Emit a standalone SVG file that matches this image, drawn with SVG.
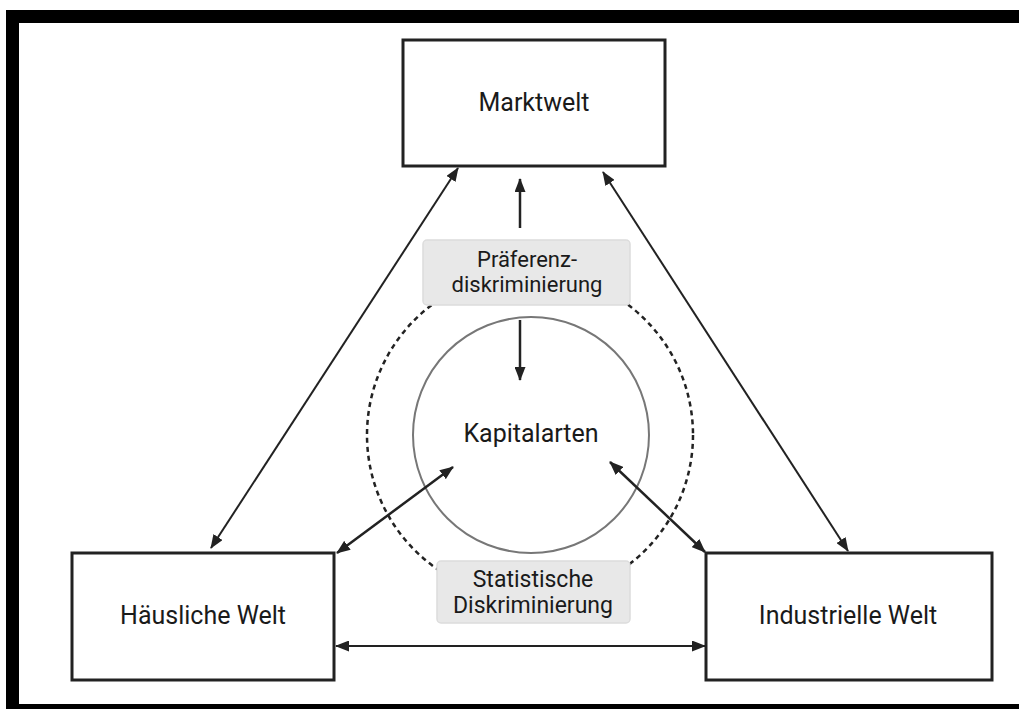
<svg xmlns="http://www.w3.org/2000/svg" width="1019" height="709" viewBox="0 0 1019 709">
  <style>
    .box { fill: #ffffff; stroke: #222222; stroke-width: 3; }
    .lbl { fill: #e8e8e8; stroke: #dcdcdc; stroke-width: 1.5; }
    .t { font-family: Roboto, "Liberation Sans", sans-serif; fill: #1a1a1a; text-anchor: middle; }
    .conn { stroke: #222222; stroke-width: 2; fill: none; }
    .inner { stroke-width: 2.5; }
  </style>
  <defs>
    <marker id="ah" viewBox="0 0 14 11" markerUnits="userSpaceOnUse" markerWidth="14" markerHeight="11" refX="13" refY="5.5" orient="auto-start-reverse">
      <path d="M0,0 L14,5.5 L0,11 z" fill="#222222"/>
    </marker>
  </defs>
  <rect width="1019" height="709" fill="#ffffff"/>
  <g id="frame" fill="#000000">
    <rect x="6" y="10" width="1013" height="13"/>
    <rect x="6" y="10" width="13" height="699"/>
    <rect x="6" y="704" width="1013" height="5"/>
  </g>
  <g id="ring">
    <circle cx="530" cy="435" r="163" fill="none" stroke="#222222" stroke-width="2.5" stroke-dasharray="5 4"/>
  </g>
  <g id="kapitalarten">
    <circle cx="531" cy="435" r="118" fill="none" stroke="#777777" stroke-width="2"/>
    <text class="t" x="531" y="442" font-size="25">Kapitalarten</text>
  </g>
  <g id="connectors">
    <line class="conn" x1="458" y1="168" x2="211" y2="548" marker-start="url(#ah)" marker-end="url(#ah)"/>
    <line class="conn" x1="603" y1="172" x2="848" y2="551" marker-start="url(#ah)" marker-end="url(#ah)"/>
    <line class="conn" x1="336" y1="646" x2="705" y2="646" marker-start="url(#ah)" marker-end="url(#ah)"/>
    <line class="conn inner" x1="520" y1="228" x2="520" y2="179" marker-end="url(#ah)"/>
    <line class="conn inner" x1="520" y1="320" x2="520" y2="380" marker-end="url(#ah)"/>
    <line class="conn inner" x1="337" y1="553" x2="453" y2="467" marker-start="url(#ah)" marker-end="url(#ah)"/>
    <line class="conn inner" x1="705" y1="552" x2="610" y2="462" marker-start="url(#ah)" marker-end="url(#ah)"/>
  </g>
  <g id="marktwelt">
    <rect class="box" x="403" y="40" width="262" height="126"/>
    <text class="t" x="534" y="111" font-size="25">Marktwelt</text>
  </g>
  <g id="haeusliche-welt">
    <rect class="box" x="72" y="553" width="262" height="127"/>
    <text class="t" x="203" y="624" font-size="25">Häusliche Welt</text>
  </g>
  <g id="industrielle-welt">
    <rect class="box" x="706" y="553" width="286" height="127"/>
    <text class="t" x="848" y="624" font-size="25">Industrielle Welt</text>
  </g>
  <g id="praeferenz">
    <rect class="lbl" x="423" y="240" width="207" height="65" rx="4"/>
    <text class="t" x="527" y="267" font-size="22">Präferenz-</text>
    <text class="t" x="527" y="292" font-size="22">diskriminierung</text>
  </g>
  <g id="statistische">
    <rect class="lbl" x="437" y="561" width="193" height="62" rx="4"/>
    <text class="t" x="533" y="587" font-size="23">Statistische</text>
    <text class="t" x="533" y="613" font-size="23">Diskriminierung</text>
  </g>
</svg>
